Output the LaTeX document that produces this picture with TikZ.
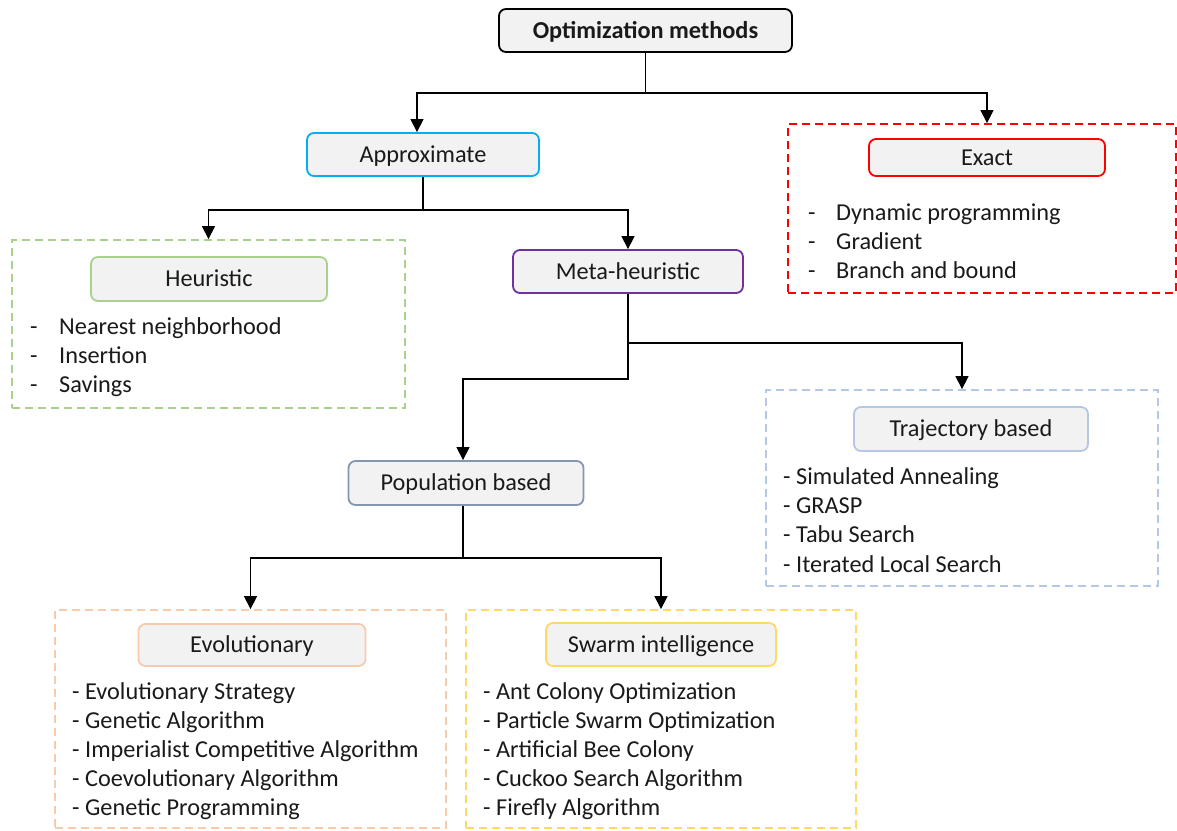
\documentclass[tikz,border=0pt]{standalone}
\usepackage{fontspec}
\setmainfont{Carlito}
\usetikzlibrary{arrows.meta}

\definecolor{boxfill}{HTML}{F2F2F2}
\definecolor{ink}{HTML}{1A1A1A}
\definecolor{cApprox}{HTML}{00B0F0}
\definecolor{cExact}{HTML}{FF0000}
\definecolor{cMeta}{HTML}{7030A0}
\definecolor{cHeur}{HTML}{A9D18E}
\definecolor{cTraj}{HTML}{B4C7E7}
\definecolor{cPop}{HTML}{8497B0}
\definecolor{cEvo}{HTML}{F8CBAD}
\definecolor{cSwarm}{HTML}{FFD966}

\begin{document}
\begin{tikzpicture}[x=1pt,y=-1pt,
  font=\fontsize{24.3}{29}\selectfont,
  box/.style={draw=#1, rounded corners=7pt, fill=boxfill, line width=1.8pt,
    inner sep=0pt, text height=15.6pt, text depth=0pt, text=ink},
  group/.style={draw=#1, dash pattern=on 8pt off 5pt, line width=1.8pt, inner sep=0pt},
  item/.style={anchor=base west, inner sep=0pt, text=ink},
  link/.style={line width=1.3pt},
  arr/.style={line width=1.3pt, -{Triangle[width=13pt,length=13pt]}}]

\fill[white] (0,0) rectangle (1177,830);
\useasboundingbox (0,0) rectangle (1177,830);

% dashed group frames
\node[group=cExact, minimum width=388pt, minimum height=169pt] (exgrp) at (982,208.5) {};
\node[group=cHeur,  minimum width=393pt, minimum height=168pt] (heugrp) at (208.5,324) {};
\node[group=cTraj,  minimum width=392pt, minimum height=196pt] (trgrp) at (962,488) {};
\node[group=cEvo,   minimum width=391pt, minimum height=218pt] (evgrp) at (250.5,719) {};
\node[group=cSwarm, minimum width=390pt, minimum height=218pt] (swgrp) at (661,719) {};

% category boxes
\node[box=black, minimum width=293pt, minimum height=43pt, font=\fontsize{24.3}{29}\selectfont\bfseries]
  (opt) at (645.5,30.5) {Optimization methods};
\node[box=cApprox, minimum width=232pt, minimum height=43pt] (approx) at (423,154.5) {Approximate};
\node[box=cExact,  minimum width=236pt, minimum height=37pt] (exact) at (987,157.5) {Exact};
\node[box=cHeur,   minimum width=236pt, minimum height=44pt] (heur) at (209,279) {Heuristic};
\node[box=cMeta,   minimum width=230pt, minimum height=43pt] (meta) at (628,271.5) {Meta-heuristic};
\node[box=cTraj,   minimum width=234pt, minimum height=44pt] (traj) at (971,429) {Trajectory based};
\node[box=cPop,    minimum width=235pt, minimum height=44pt] (pop) at (466,483) {Population based};
\node[box=cEvo,    minimum width=227pt, minimum height=42pt] (evo) at (252,645) {Evolutionary};
\node[box=cSwarm,  minimum width=230pt, minimum height=43pt] (swarm) at (661,644.5) {Swarm intelligence};

% item lists
\foreach \t [count=\i] in {Dynamic programming, Gradient, Branch and bound} {
  \node[item] (exd\i) at (808,{220+29*(\i-1)}) {-};
  \node[item] (ex\i) at (836,{220+29*(\i-1)}) {\t};
}
\foreach \t [count=\i] in {Nearest neighborhood, Insertion, Savings} {
  \node[item] (hd\i) at (30,{334+29*(\i-1)}) {-};
  \node[item] (h\i) at (59,{334+29*(\i-1)}) {\t};
}
\foreach \t [count=\i] in {Simulated Annealing, GRASP, Tabu Search, Iterated Local Search} {
  \node[item] (tr\i) at (783,{484+29.4*(\i-1)}) {- \t};
}
\foreach \t [count=\i] in {Evolutionary Strategy, Genetic Algorithm, Imperialist Competitive Algorithm,
    Coevolutionary Algorithm, Genetic Programming} {
  \node[item] (ev\i) at (72,{699+29*(\i-1)}) {- \t};
}
\foreach \t [count=\i] in {Ant Colony Optimization, Particle Swarm Optimization, Artificial Bee Colony,
    Cuckoo Search Algorithm, Firefly Algorithm} {
  \node[item] (sw\i) at (483,{699+29*(\i-1)}) {- \t};
}

% connectors
\draw[link] (opt.south) -- ++(0,40) coordinate (j0);
\draw[arr] (j0) -| ([xshift=-6pt]approx.north);
\draw[arr] (j0) -| (exgrp.north -| exact.north);
\draw[link] (approx.south) -- ++(0,33) coordinate (j1);
\draw[arr] (j1) -| (heugrp.north);
\draw[arr] (j1) -| (meta.north);
\draw[link] (meta.south) -- ++(0,49) coordinate (j2);
\draw[arr] (j2) -| (trgrp.north);
\draw[arr] (j2) -- ++(0,36) -| ([xshift=-3pt]pop.north);
\draw[link] ([xshift=-3pt]pop.south) -- ++(0,52) coordinate (j3);
\draw[arr] (j3) -| (evgrp.north);
\draw[arr] (j3) -| (swgrp.north);
\end{tikzpicture}
\end{document}
